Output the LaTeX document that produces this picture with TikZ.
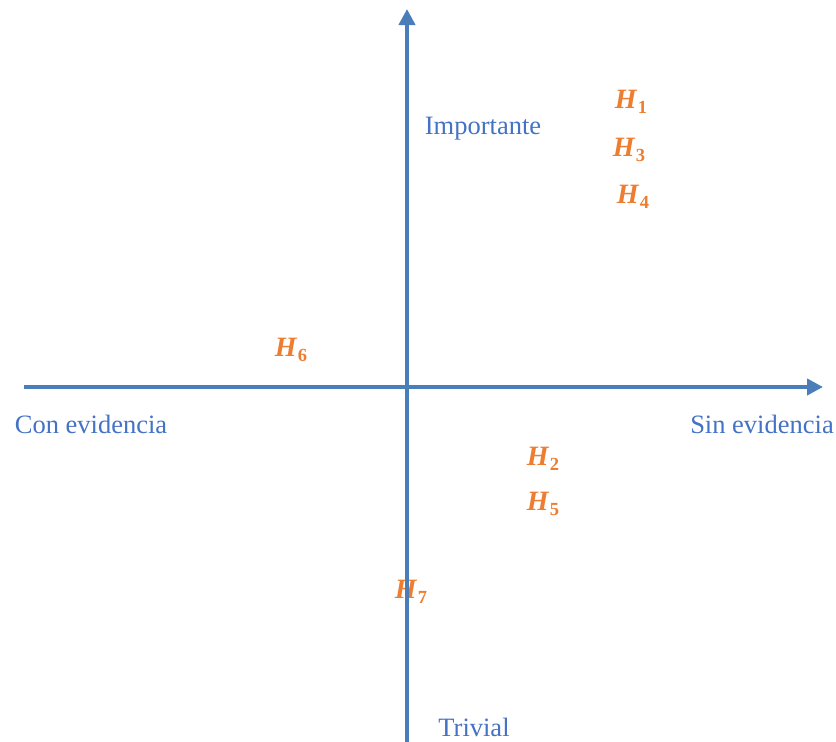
\documentclass[tikz,border=0pt]{standalone}
\usepackage{fontspec}
\setmainfont{Liberation Serif}
\usetikzlibrary{arrows.meta}
\definecolor{axisblue}{HTML}{4A7EBB}
\definecolor{textblue}{HTML}{4472C4}
\definecolor{hyporange}{HTML}{ED7D31}
\newcommand{\hyp}[1]{\textbf{\textit{H}}\kern0.5pt\raisebox{-4.5pt}{\fontsize{18.5}{18.5}\selectfont\textbf{#1}}}
\begin{document}
\begin{tikzpicture}[x=1pt,y=-1pt,
  axislabel/.style={text=textblue,font=\fontsize{26.5}{28}\selectfont,inner sep=0pt,anchor=center},
  hyplabel/.style={text=hyporange,font=\fontsize{28}{30}\selectfont,inner sep=0pt,anchor=center},
  axisline/.style={draw=axisblue,line width=4.5pt,-{Triangle[length=16pt,width=16pt]}}]
\useasboundingbox (0,0) rectangle (836,742);
% hypotheses
\node[hyplabel] (h1) at (631,102) {\hyp{1}};
\node[hyplabel] (h3) at (629,150) {\hyp{3}};
\node[hyplabel] (h4) at (633,197) {\hyp{4}};
\node[hyplabel] (h6) at (291,350) {\hyp{6}};
\node[hyplabel] (h2) at (543,459) {\hyp{2}};
\node[hyplabel] (h5) at (543,504) {\hyp{5}};
\node[hyplabel] (h7) at (411,592) {\hyp{7}};
% axis labels
\node[axislabel] (imp) at (483,129) {Importante};
\node[axislabel] (con) at (91,424) {Con evidencia};
\node[axislabel] (sin) at (762,424) {Sin evidencia};
\node[axislabel] (triv) at (474,727) {Trivial};
% axes
\coordinate (vbot) at (407,742);
\coordinate (vtop) at (407,9);
\coordinate (hleft) at (24,387);
\coordinate (hright) at (823,387);
\draw[axisline] (vbot) -- (vtop);
\draw[axisline] (hleft) -- (hright);
\end{tikzpicture}
\end{document}
